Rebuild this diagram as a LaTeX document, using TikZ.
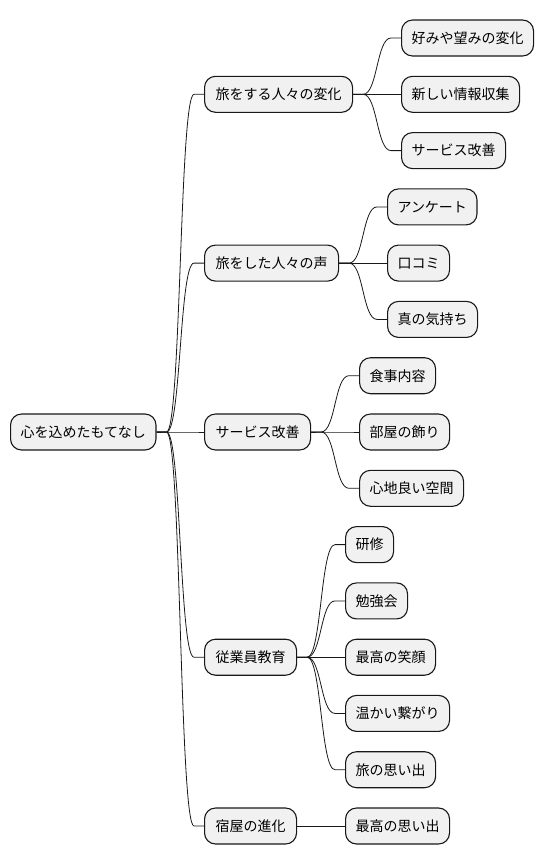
\documentclass[tikz,border=0pt]{standalone}
\usepackage{fontspec}
\newfontfamily\jpfont{Noto Sans CJK JP}
\usetikzlibrary{calc}
\definecolor{boxfill}{HTML}{F1F1F1}
\definecolor{boxline}{HTML}{181818}
\tikzset{
  mmbox/.style={draw=boxline, fill=boxfill, line width=1.1pt, rounded corners=11pt,
    minimum height=36pt, inner xsep=10pt, inner ysep=0pt, anchor=west,
    font=\jpfont\fontsize{14pt}{16pt}\selectfont, text=black},
  mmlone/.style={mmbox, inner xsep=11pt},
  mmline/.style={draw=boxline, line width=0.8pt}
}
\newcommand\mmlink[2]{%
  \draw[mmline] (#1.east) -- ++(10pt,0) .. controls +(14.5pt,0) and ($(#2.west)+(-24.5pt,0)$) .. ($(#2.west)+(-10pt,0)$) -- (#2.west);}
\begin{document}
\begin{tikzpicture}[x=1pt,y=-1pt]
\useasboundingbox (0,0) rectangle (544,865);
\node[mmbox] (root) at (10,432) {心を込めたもてなし};
\node[mmlone] (a) at (204,94.3) {旅をする人々の変化};
\node[mmlone] (b) at (204,263.1) {旅をした人々の声};
\node[mmlone] (c) at (204,432) {サービス改善};
\node[mmlone] (d) at (204,657.2) {従業員教育};
\node[mmlone] (e) at (204,826) {宿屋の進化};
\node[mmbox] (a1) at (401,38) {好みや望みの変化};
\node[mmbox] (a2) at (401,94.3) {新しい情報収集};
\node[mmbox] (a3) at (401,150.6) {サービス改善};
\node[mmbox] (b1) at (387,206.9) {アンケート};
\node[mmbox] (b2) at (387,263.1) {口コミ};
\node[mmbox] (b3) at (387,319.4) {真の気持ち};
\node[mmbox] (c1) at (359,375.7) {食事内容};
\node[mmbox] (c2) at (359,432) {部屋の飾り};
\node[mmbox] (c3) at (359,488.3) {心地良い空間};
\node[mmbox] (d1) at (345,544.6) {研修};
\node[mmbox] (d2) at (345,600.9) {勉強会};
\node[mmbox] (d3) at (345,657.2) {最高の笑顔};
\node[mmbox] (d4) at (345,713.4) {温かい繋がり};
\node[mmbox] (d5) at (345,769.7) {旅の思い出};
\node[mmbox] (e1) at (345,826) {最高の思い出};
\mmlink{root}{a}\mmlink{root}{b}\mmlink{root}{c}\mmlink{root}{d}\mmlink{root}{e}
\mmlink{a}{a1}\mmlink{a}{a2}\mmlink{a}{a3}
\mmlink{b}{b1}\mmlink{b}{b2}\mmlink{b}{b3}
\mmlink{c}{c1}\mmlink{c}{c2}\mmlink{c}{c3}
\mmlink{d}{d1}\mmlink{d}{d2}\mmlink{d}{d3}\mmlink{d}{d4}\mmlink{d}{d5}
\mmlink{e}{e1}
\end{tikzpicture}
\end{document}
